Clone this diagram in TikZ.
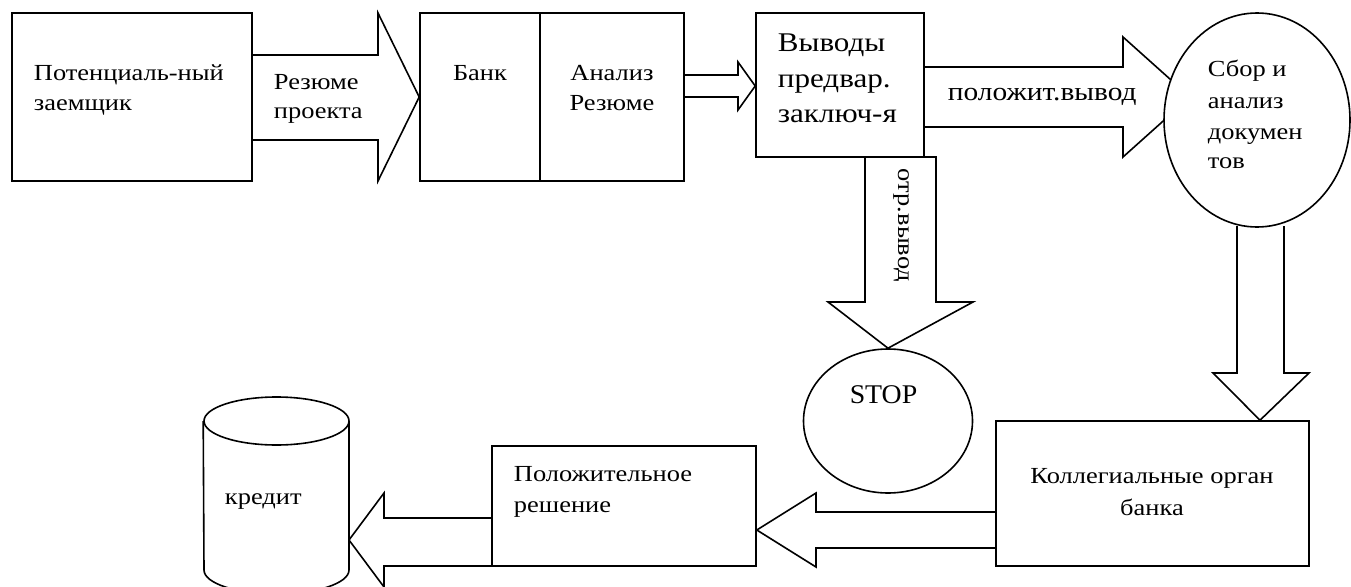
\documentclass[tikz,border=0pt]{standalone}
\usepackage{fontspec}
\setmainfont{Liberation Serif}
\usetikzlibrary{shapes.geometric,backgrounds}
\begin{document}
\begin{tikzpicture}[x=1pt,y=-1pt, line width=1.6pt, line join=miter,
 box/.style={draw, rectangle, inner sep=0pt, line width=1.6pt},
 oval/.style={draw, ellipse, inner sep=0pt, fill=white, line width=1.6pt},
 tbase/.style={inner sep=0pt, font=\fontsize{23}{29}\selectfont},
 txt/.style={tbase, anchor=base west, xscale=1.15},
 ctxt/.style={tbase, anchor=base, xscale=1.15},
 big/.style={inner sep=0pt, anchor=base west, font=\fontsize{27}{35}\selectfont, xscale=1.15},
 blk/.style={draw, line width=1.6pt, line join=miter}]
\useasboundingbox (0,0) rectangle (1351,586);

% boxes
\node[box, minimum width=240pt, minimum height=168pt] (pz) at (132,97) {};
\node[box, minimum width=120pt, minimum height=168pt] (bank) at (480,97) {};
\node[box, minimum width=144pt, minimum height=168pt] (an) at (612,97) {};
\node[box, minimum width=168pt, minimum height=144pt] (vy) at (840,85) {};
\node[oval, minimum width=186pt, minimum height=214pt] (sb) at (1257,120) {};
\node[oval, minimum width=169pt, minimum height=144pt] (stop) at (888,421) {};
\node[box, minimum width=313pt, minimum height=145pt] (kol) at (1152.5,493.5) {};
\node[box, minimum width=264pt, minimum height=120pt] (pol) at (624,506) {};
\node[inner sep=0pt, minimum width=145pt, minimum height=197pt] (kr) at (276.5,495.5) {};
\draw (kr.north west |- 0,421) -- (204,570) arc[start angle=180, end angle=360, x radius=72.5pt, y radius=24pt] -- (349,421);
\draw (276.5,421) ellipse[x radius=72.5pt, y radius=24pt];

% block arrows
\begin{scope}[on background layer]
\draw[blk] (pz.east |- 0,55) -- (378,55) -- (378,13) -- (bank.west) -- (378,181) -- (378,140) -- (pz.east |- 0,140);
\draw[blk] (an.east |- 0,75) -- (738,75) -- (738,62) -- (vy.west |- 0,86) -- (738,110) -- (738,97) -- (an.east |- 0,97);
\draw[blk] (vy.east |- 0,67) -- (1123,67) -- (1123,37) -- (1190,97) -- (1123,157) -- (1123,127) -- (vy.east |- 0,127);
\draw[blk] (865,157) -- (865,302) -- (828,302) -- (stop.north) -- (973,302) -- (936,302) -- (936,157) -- cycle;
\draw[blk] (1237,226) -- (1237,373) -- (1213,373) -- (kol.north -| 1260,0) -- (1309,373) -- (1284,373) -- (1284,226);
\draw[blk] (kol.west |- 0,512) -- (816,512) -- (816,493) -- (pol.east |- 0,530) -- (816,567) -- (816,548) -- (kol.west |- 0,548);
\draw[blk] (pol.west |- 0,518) -- (384,518) -- (384,493) -- (349,540) -- (384,587) -- (384,566) -- (pol.west |- 0,566);
\end{scope}

% texts
\node[txt] (t1a) at (33,80) {Потенциаль-ный};
\node[txt] (t1b) at (33,110) {заемщик};
\node[txt] (t2a) at (273,89) {Резюме};
\node[txt] (t2b) at (273,118) {проекта};
\node[ctxt] (t3) at (480,80) {Банк};
\node[ctxt] (t4a) at (612,80) {Анализ};
\node[ctxt] (t4b) at (612,110) {Резюме};
\node[big] (t5a) at (777,52) {Выводы};
\node[big] (t5b) at (777,87) {предвар.};
\node[big] (t5c) at (777,122) {заключ-я};
\node[inner sep=0pt, anchor=base west, font=\fontsize{26}{30}\selectfont, xscale=1.13] (t6) at (947,100) {положит.вывод};
\node[txt] (t7a) at (1207,76) {Сбор и};
\node[txt] (t7b) at (1207,108) {анализ};
\node[txt] (t7c) at (1207,139) {докумен};
\node[txt] (t7d) at (1207,168) {тов};
\node[tbase, anchor=base west, rotate=-90, xscale=1.15] (t8) at (898,168) {отр.вывод};
\node[inner sep=0pt, anchor=base, font=\fontsize{27}{35}\selectfont, xscale=1.03] (t9) at (883.5,403) {STOP};
\node[ctxt] (t10a) at (1152,483) {Коллегиальные орган};
\node[ctxt] (t10b) at (1152,515) {банка};
\node[txt] (t11a) at (513,481) {Положительное};
\node[txt] (t11b) at (513,512) {решение};
\node[txt] (t12) at (224,504) {кредит};
\end{tikzpicture}
\end{document}
